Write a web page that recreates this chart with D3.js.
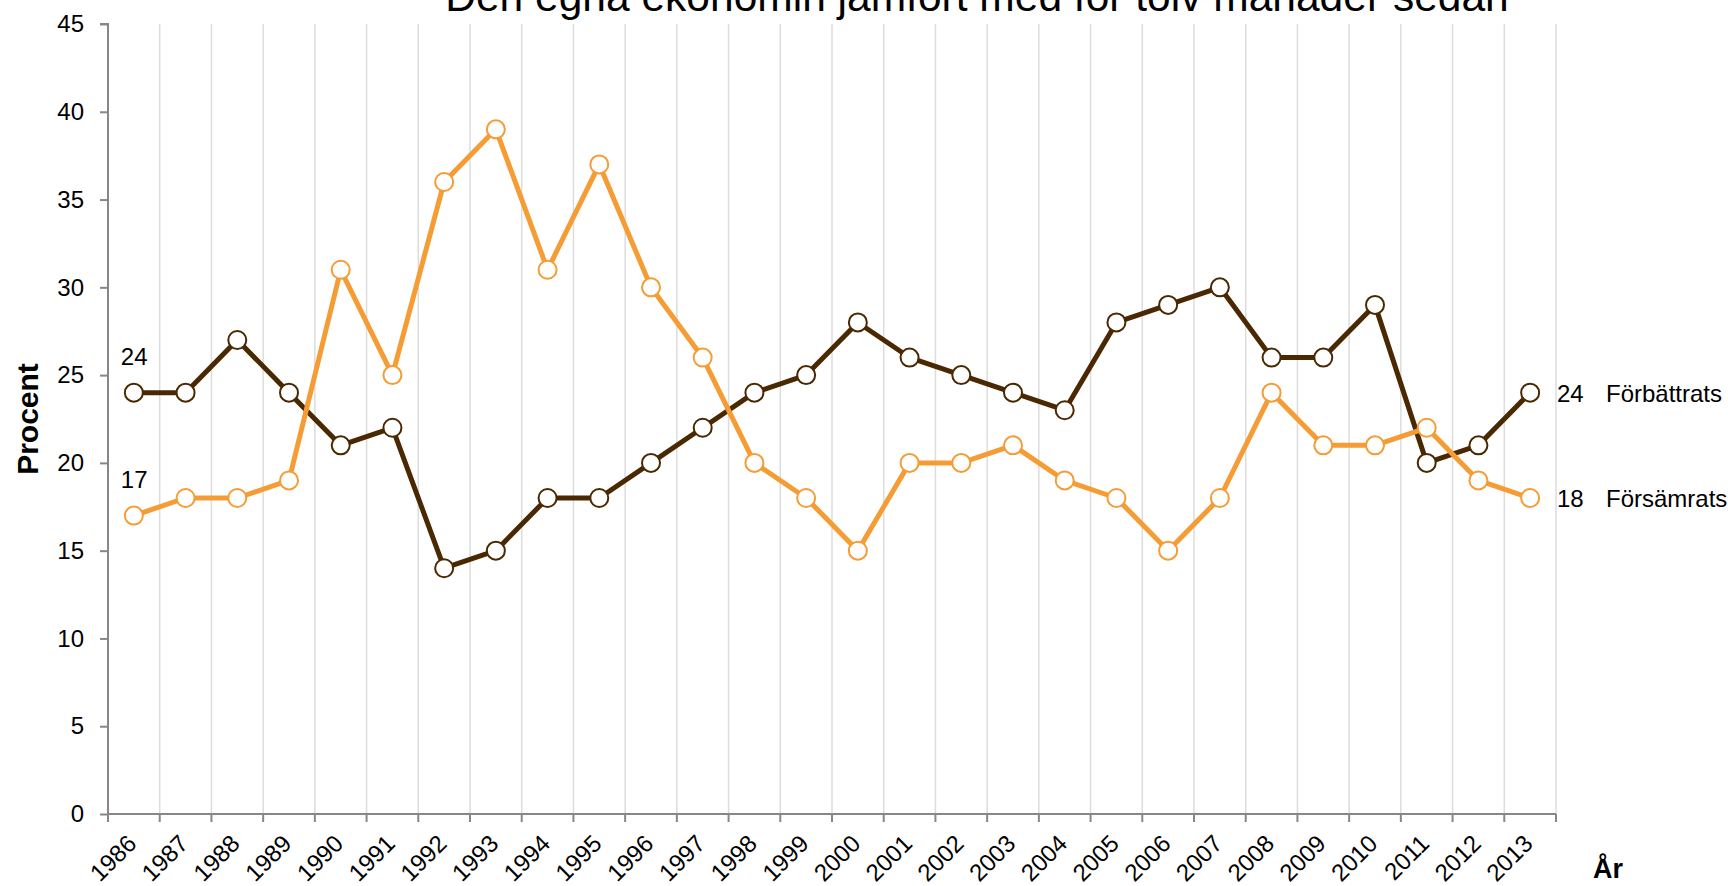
<!DOCTYPE html>
<html>
<head>
<meta charset="utf-8">
<script src="https://cdn.jsdelivr.net/npm/d3@7"></script>
<style>
  html, body { margin: 0; padding: 0; background: #fff; }
  svg { display: block; font-family: "Liberation Sans", Arial, sans-serif; }
</style>
</head>
<body>
<svg id="chart" width="1728" height="886"></svg>
<script>
const years = ["1986","1987","1988","1989","1990","1991","1992","1993","1994","1995","1996","1997","1998","1999","2000","2001","2002","2003","2004","2005","2006","2007","2008","2009","2010","2011","2012","2013"];
const forbattrats = [24,24,27,24,21,22,14,15,18,18,20,22,24,25,28,26,25,24,23,28,29,30,26,26,29,20,21,24];
const forsamrats = [17,18,18,19,31,25,36,39,31,37,30,26,20,18,15,20,20,21,19,18,15,18,24,21,21,22,19,18];
const yTicks = [0,5,10,15,20,25,30,35,40,45];
const seriesNames = ["Förbättrats","Försämrats"];
const titleText = "Den egna ekonomin jämfört med för tolv månader sedan";
const yLabel = "Procent";
const xLabel = "År";

const colors = ["#4a2902", "#f59c35"];
const svg = d3.select("#chart");

const mLeft = 108, mRight = 1556, mTop = 24, mBottom = 814;
const x = d3.scaleBand().domain(years).range([mLeft, mRight]).padding(0);
const y = d3.scaleLinear().domain([0, 45]).range([mBottom, mTop]);
const cx = d => x(d) + x.bandwidth() / 2;

// gridlines at band boundaries
const bounds = years.map(d => x(d)).concat([mRight]).slice(1);
svg.append("g").selectAll("line").data(bounds).join("line")
  .attr("x1", d => d).attr("x2", d => d)
  .attr("y1", mTop).attr("y2", mBottom)
  .attr("stroke", "#dcdcdc").attr("stroke-width", 1.5);

// y axis
const yAxis = svg.append("g").attr("transform", `translate(${mLeft},0)`)
  .call(d3.axisLeft(y).tickValues(yTicks).tickSize(8).tickPadding(16).tickFormat(d3.format("d")));
yAxis.select(".domain").attr("stroke", "#878787").attr("stroke-width", 2).attr("d", `M-8,${y(45)}H0V${y(0)}`);
yAxis.selectAll(".tick line").attr("stroke", "#878787").attr("stroke-width", 2);
yAxis.selectAll(".tick text").attr("font-size", 24).attr("fill", "#000")
  .attr("font-family", "Liberation Sans, Arial, sans-serif");

// x axis
const tickPos = [mLeft].concat(bounds);
svg.append("line").attr("x1", mLeft).attr("x2", mRight).attr("y1", mBottom).attr("y2", mBottom)
  .attr("stroke", "#878787").attr("stroke-width", 2);
svg.append("g").selectAll("line").data(tickPos).join("line")
  .attr("x1", d => d).attr("x2", d => d).attr("y1", mBottom).attr("y2", mBottom + 8)
  .attr("stroke", "#878787").attr("stroke-width", 2);
svg.append("g").selectAll("text").data(years).join("text")
  .attr("transform", d => `translate(${cx(d) + 4},${mBottom + 31}) rotate(-45)`)
  .attr("text-anchor", "end").attr("font-size", 24).attr("fill", "#000")
  .text(d => d);

// lines and markers
const series = [forbattrats, forsamrats];
const line = d3.line().x((d, i) => cx(years[i])).y(d => y(d));
series.forEach((s, k) => {
  svg.append("path").datum(s).attr("d", line).attr("fill", "none")
    .attr("stroke", colors[k]).attr("stroke-width", 5).attr("stroke-linejoin", "round");
});
series.forEach((s, k) => {
  svg.append("g").selectAll("circle").data(s).join("circle")
    .attr("cx", (d, i) => cx(years[i]))
    .attr("cy", d => y(d)).attr("r", 9)
    .attr("fill", "#fff").attr("stroke", colors[k]).attr("stroke-width", 2);
});

// start labels
series.forEach((s, k) => {
  svg.append("text").attr("x", cx(years[0]) - 13).attr("y", y(s[0]) - 28)
    .attr("font-size", 24).attr("fill", "#000").text(s[0]);
});
// end labels
series.forEach((s, k) => {
  const yy = y(s[s.length - 1]) + 9;
  svg.append("text").attr("x", mRight + 1).attr("y", yy).attr("font-size", 24).attr("fill", "#000")
    .attr("stroke", "#fff").attr("stroke-width", 3).attr("paint-order", "stroke")
    .text(s[s.length - 1]);
  svg.append("text").attr("x", mRight + 50).attr("y", yy).attr("font-size", 24).attr("fill", "#000")
    .text(seriesNames[k]);
});

// axis titles
svg.append("text").attr("transform", `translate(38,${(mTop + mBottom) / 2}) rotate(-90)`)
  .attr("text-anchor", "middle").attr("font-size", 30).attr("font-weight", "bold").text(yLabel);
svg.append("text").attr("x", 1593).attr("y", 878).attr("font-size", 27).attr("font-weight", "bold").text(xLabel);

// title, fitted to measured width
const t = svg.append("text").attr("x", 977).attr("y", 11).attr("text-anchor", "middle")
  .attr("font-size", 100).attr("fill", "#000").text(titleText);
const w = t.node().getComputedTextLength();
t.attr("font-size", 100 * 1064 / w);
</script>
</body>
</html>
